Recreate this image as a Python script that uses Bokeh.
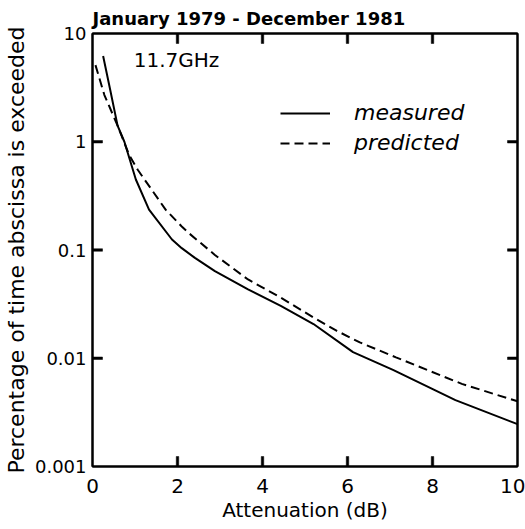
from bokeh.plotting import figure
from bokeh.models import (FixedTicker, LinearAxis, LogAxis, Label, Legend, LegendItem)
from bokeh.embed import file_html
from bokeh.resources import INLINE

# ---- data ----
meas_x = [0.25, 0.41, 0.59, 0.75, 1.02, 1.33, 1.87, 2.1, 2.41, 2.88, 3.66, 4.43, 5.2, 6.13, 7.07, 8.54, 10.0]
meas_y = [6.2, 3.1, 1.41, 1.0, 0.448, 0.236, 0.125, 0.104, 0.0845, 0.0638, 0.0433, 0.0304, 0.0207, 0.0114, 0.0078, 0.0041, 0.00246]
pred_x = [0.07, 0.28, 0.59, 0.86, 1.06, 1.72, 2.1, 2.26, 2.88, 3.66, 4.43, 5.2, 5.75, 6.29, 7.14, 8.69, 10.0]
pred_y = [5.1, 2.7, 1.41, 0.76, 0.554, 0.236, 0.165, 0.144, 0.09, 0.0534, 0.0363, 0.0238, 0.0179, 0.014, 0.0102, 0.0058, 0.0040]
x_ticks = [0, 2, 4, 6, 8, 10]
y_ticks = [0.001, 0.01, 0.1, 1, 10]
y_tick_labels = ["0.001", "0.01", "0.1", "1", "10"]
title_text = "January 1979 - December 1981"
x_label = "Attenuation (dB)"
y_label = "Percentage of time abscissa is exceeded"
series_names = ["measured", "predicted"]
freq_label = "11.7GHz"

FONT = "DejaVu Sans"
X0, X1 = 0, 10
Y0, Y1 = 0.001, 10

p = figure(width=525, height=529, y_axis_type="log",
           x_range=(X0, X1), y_range=(Y0, Y1),
           output_backend="svg", toolbar_location=None,
           min_border_left=89, min_border_right=8,
           min_border_top=32, min_border_bottom=63)

p.title.text = title_text
p.title.text_font = FONT
p.title.text_font_size = "18px"
p.title.text_font_style = "bold"
p.title.text_color = "black"
p.title.align = "left"
p.title.offset = 0

p.grid.visible = False
p.outline_line_color = "black"
p.outline_line_width = 2
p.background_fill_color = "white"
p.border_fill_color = "white"

def style_axis(ax, labels=True):
    ax.axis_line_color = "black"
    ax.axis_line_width = 2
    ax.major_tick_in = 0
    ax.major_tick_out = 0
    ax.minor_tick_line_color = None
    ax.major_label_text_color = "black"
    ax.axis_label_text_color = "black"
    if not labels:
        ax.major_label_text_font_size = "0px"
        ax.major_label_text_color = None

xa = p.xaxis[0]
xa.ticker = FixedTicker(ticks=x_ticks)
style_axis(xa)
xa.axis_label = x_label
xa.axis_label_text_font = FONT
xa.axis_label_text_font_size = "20px"
xa.axis_label_text_font_style = "normal"
xa.major_label_text_font = FONT
xa.major_label_text_font_size = "20px"
xa.major_label_standoff = 12
xa.axis_label_standoff = 2

ya = p.yaxis[0]
ya.ticker = FixedTicker(ticks=y_ticks)
ya.major_label_overrides = {t: l for t, l in zip(y_ticks, y_tick_labels)}
style_axis(ya)
ya.axis_label = y_label
ya.axis_label_text_font = FONT
ya.axis_label_text_font_size = "22px"
ya.axis_label_text_font_style = "normal"
ya.major_label_text_font = FONT
ya.major_label_text_font_size = "18px"
ya.major_label_standoff = 6
ya.axis_label_standoff = 3

top = LinearAxis(ticker=FixedTicker(ticks=x_ticks))
style_axis(top, labels=False)
p.add_layout(top, "above")
right = LogAxis(ticker=FixedTicker(ticks=y_ticks))
style_axis(right, labels=False)
p.add_layout(right, "right")

# inward tick marks: small screen-sized bars centred on the frame edge
# (the half outside the frame is clipped, leaving ~10 px inside)
inner_x = [t for t in x_ticks if X0 < t < X1]
inner_y = [t for t in y_ticks if Y0 < t < Y1]
bar = dict(fill_color="black", line_color="black", line_width=0.5,
           width_units="screen", height_units="screen")
p.rect(x=inner_x, y=[Y0] * len(inner_x), width=2.5, height=20, **bar)
p.rect(x=inner_x, y=[Y1] * len(inner_x), width=2.5, height=20, **bar)
p.rect(x=[X0] * len(inner_y), y=inner_y, width=20, height=2.5, **bar)
p.rect(x=[X1] * len(inner_y), y=inner_y, width=20, height=2.5, **bar)

r1 = p.line(meas_x, meas_y, line_color="black", line_width=2)
r2 = p.line(pred_x, pred_y, line_color="black", line_width=2, line_dash="9 5")

legend = Legend(items=[LegendItem(label=series_names[0], renderers=[r1]),
                       LegendItem(label=series_names[1], renderers=[r2])],
                location=(188, 311))
legend.border_line_color = None
legend.background_fill_alpha = 0
legend.label_text_font = FONT
legend.label_text_font_size = "22px"
legend.label_text_font_style = "italic"
legend.label_text_color = "black"
legend.glyph_width = 50
legend.label_standoff = 24
legend.spacing = 5
legend.padding = 0
legend.margin = 0
p.add_layout(legend, "center")

p.add_layout(Label(x=0.97, y=4.4, text=freq_label, text_font=FONT,
                   text_font_size="20px", text_color="black"))

open("out.html", "w").write(file_html(p, INLINE))
